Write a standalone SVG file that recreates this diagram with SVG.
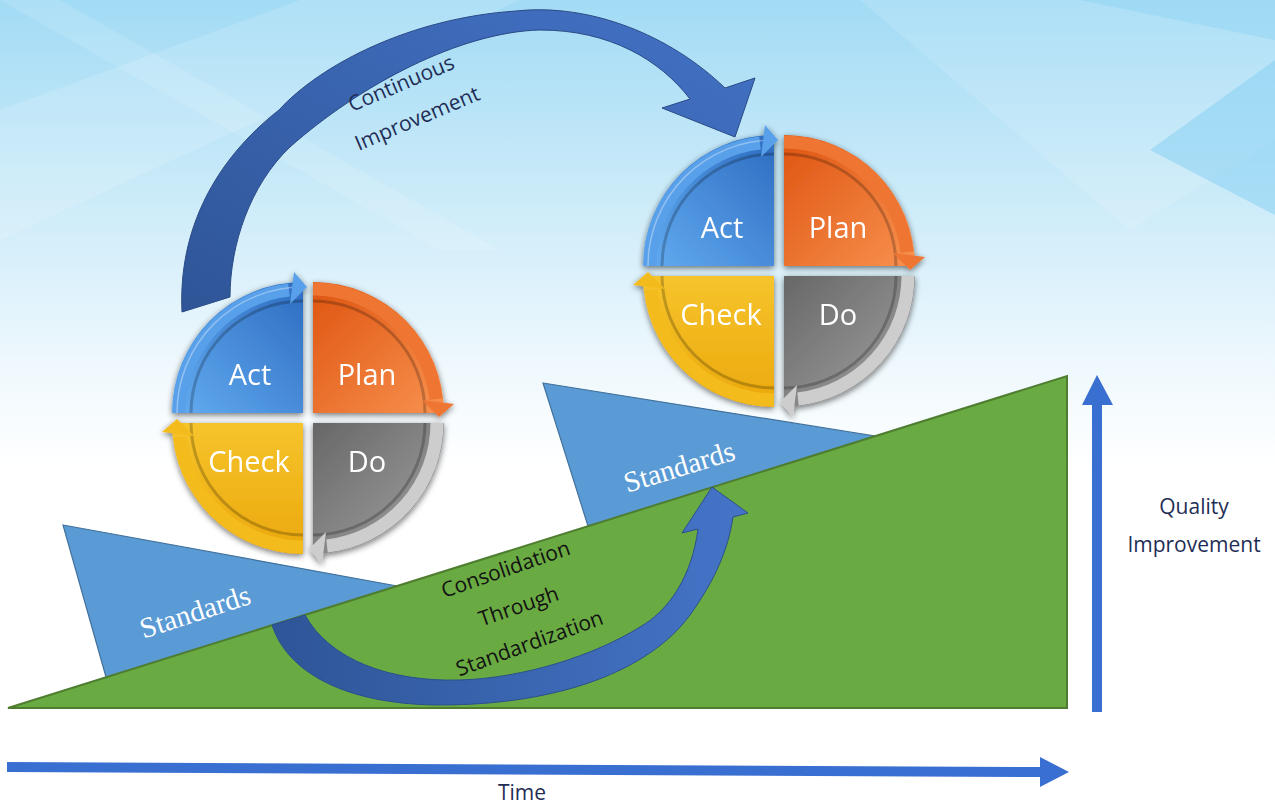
<svg xmlns="http://www.w3.org/2000/svg" width="1275" height="805" viewBox="0 0 1275 805">
<defs>
<style>
.qt{font-family:"Open Sans","Noto Sans","Liberation Sans",sans-serif;font-size:29px;fill:#ffffff;text-anchor:middle}
.lbl{font-family:"Open Sans","Noto Sans","Liberation Sans",sans-serif;font-size:21px;fill:#1f2d55;text-anchor:middle}
.cons{font-family:"Open Sans","Noto Sans","Liberation Sans",sans-serif;font-size:21px;fill:#111111;text-anchor:middle}
.std{font-family:"Liberation Serif","DejaVu Serif",serif;font-size:29px;fill:#ffffff;text-anchor:middle}
.stdtri{fill:#5b9bd5;stroke:#41719c;stroke-width:1.2}
.band{fill:none;stroke-width:13}
.groove{fill:none;stroke:#000;stroke-opacity:0.22;stroke-width:3}
.hl{fill:none;stroke:#fff;stroke-opacity:0.35;stroke-width:1.5}
.axis{fill:#3a6fd2}
</style>
<linearGradient id="bg" x1="0" y1="0" x2="0" y2="1">
<stop offset="0" stop-color="#a2dbf5"/>
<stop offset="0.2" stop-color="#c4e8f8"/>
<stop offset="0.45" stop-color="#eef8fd"/>
<stop offset="0.58" stop-color="#ffffff"/>
<stop offset="1" stop-color="#ffffff"/>
</linearGradient>
<linearGradient id="gAct" x1="1" y1="0" x2="0" y2="1">
<stop offset="0" stop-color="#2d6cc0"/>
<stop offset="1" stop-color="#63acf1"/>
</linearGradient>
<linearGradient id="gPlan" x1="0" y1="0" x2="1" y2="1">
<stop offset="0" stop-color="#de5410"/>
<stop offset="1" stop-color="#f8914f"/>
</linearGradient>
<linearGradient id="gCheck" x1="0" y1="0" x2="0" y2="1">
<stop offset="0" stop-color="#f6c42c"/>
<stop offset="1" stop-color="#eba80c"/>
</linearGradient>
<linearGradient id="gDo" x1="0" y1="0" x2="1" y2="1">
<stop offset="0" stop-color="#676767"/>
<stop offset="1" stop-color="#a3a3a3"/>
</linearGradient>
<linearGradient id="gArrowTop" x1="0" y1="1" x2="1" y2="0">
<stop offset="0" stop-color="#2f5597"/>
<stop offset="1" stop-color="#4372c6"/>
</linearGradient>
<linearGradient id="gArrowBot" x1="0" y1="0" x2="1" y2="0">
<stop offset="0" stop-color="#2e5597"/>
<stop offset="1" stop-color="#4574c8"/>
</linearGradient>
<filter id="sh" x="-25%" y="-25%" width="150%" height="150%">
<feGaussianBlur in="SourceAlpha" stdDeviation="3"/>
<feOffset dx="0" dy="2" result="o"/>
<feComponentTransfer><feFuncA type="linear" slope="0.55"/></feComponentTransfer>
<feMerge><feMergeNode/><feMergeNode in="SourceGraphic"/></feMerge>
</filter>
</defs>

<g id="background">
<rect x="0" y="0" width="1275" height="805" fill="url(#bg)"/>
<polygon points="0,110 300,0 520,0 0,240" fill="#ffffff" fill-opacity="0.14"/>
<polygon points="0,0 60,0 500,250 440,250" fill="#ffffff" fill-opacity="0.12"/>
<polygon points="860,0 1275,0 1275,140 1130,230" fill="#ffffff" fill-opacity="0.12"/>
<polygon points="1275,60 1150,150 1275,215" fill="#7ccbf1" fill-opacity="0.45"/>
<polygon points="1080,0 1275,0 1275,40" fill="#8ad2f3" fill-opacity="0.4"/>
</g>

<g id="connectors">
<path id="continuous-arrow" d="M182,312 C178,230 215,160 279,110 C320,65 410,18 516,11 C590,3 670,35 725,88 L755,78 L735,137 L662,108 L690,99 C660,60 610,30 540,30 C460,32 360,85 290,147 C250,185 230,245 230,297 Z" fill="url(#gArrowTop)" stroke="#2a4a86" stroke-width="1"/>
</g>

<g id="standards-left">
<polygon class="stdtri" points="63,525 430,592 106,677"/>
<text class="std" transform="translate(198,621) rotate(-18)">Standards</text>
</g>
<g id="standards-right">
<polygon class="stdtri" points="543,383 950,448 588,526"/>
<text class="std" transform="translate(682,476) rotate(-17)">Standards</text>
</g>

<g id="quality-base">
<polygon points="8,708 1067,376 1067,708" fill="#6aaa42" stroke="#4e7d30" stroke-width="2"/>
</g>

<g id="connectors-2">
<path id="consolidation-arrow" d="M272,625 C290,680 360,705 440,705 C560,705 650,670 690,615 C715,580 728,550 733,517 L748,513 L712,487 L682,533 L698,529 C692,575 670,610 640,627 C595,655 525,678 460,680 C390,682 330,660 305,615 Z" fill="url(#gArrowBot)" stroke="#2b4f8c" stroke-width="1"/>
<polygon id="time-axis" class="axis" points="7,762 1040,767 1040,757 1069,772 1040,787 1040,777 7,772"/>
<polygon id="quality-axis" class="axis" points="1092,712 1092,405 1082,405 1097,375 1113,405 1102,405 1102,712"/>
</g>

<g id="consolidation-label">
<text class="cons" transform="translate(508,576) rotate(-19)">Consolidation</text>
<text class="cons" transform="translate(521,613) rotate(-19)">Through</text>
<text class="cons" transform="translate(532,650) rotate(-20)">Standardization</text>
</g>

<g id="continuous-label">
<text class="lbl" transform="translate(404,90) rotate(-23)">Continuous</text>
<text class="lbl" transform="translate(420,125) rotate(-23)">Improvement</text>
</g>

<g id="pdca-left" transform="translate(308,418)">
<g id="pdca-left-act" filter="url(#sh)">
<path d="M-5,-5 H-136 A131,131 0 0 1 -5,-136 Z" fill="url(#gAct)"/>
<path class="band" d="M-129,-5 A124,124 0 0 1 -19,-128" stroke="#58a0ea"/>
<path class="groove" d="M-117,-5 A112,112 0 0 1 -5,-117"/>
<path class="hl" d="M-131,-5 A126,126 0 0 1 -5,-131"/>
<polygon points="-18,-114 -14,-146 -1,-131" fill="#58a0ea"/>
<text class="qt" x="-58" y="-33">Act</text>
</g>
<g id="pdca-left-plan" filter="url(#sh)">
<path d="M5,-5 V-136 A131,131 0 0 1 136,-5 Z" fill="url(#gPlan)"/>
<path class="band" d="M5,-129 A124,124 0 0 1 128,-19" stroke="#ee7532"/>
<path class="groove" d="M5,-117 A112,112 0 0 1 117,-5"/>
<polygon points="114,-18 146,-14 131,-1" fill="#ee7532"/>
<text class="qt" x="59" y="-33">Plan</text>
</g>
<g id="pdca-left-do" filter="url(#sh)">
<path d="M5,5 H136 A131,131 0 0 1 5,136 Z" fill="url(#gDo)"/>
<path class="band" d="M129,5 A124,124 0 0 1 19,128" stroke="#cdcdcd"/>
<path class="groove" d="M117,5 A112,112 0 0 1 5,117"/>
<polygon points="18,114 14,146 1,131" fill="#cdcdcd"/>
<text class="qt" x="59" y="54">Do</text>
</g>
<g id="pdca-left-check" filter="url(#sh)">
<path d="M-5,5 V136 A131,131 0 0 1 -136,5 Z" fill="url(#gCheck)"/>
<path class="band" d="M-5,129 A124,124 0 0 1 -128,19" stroke="#f4bb1e"/>
<path class="groove" d="M-5,117 A112,112 0 0 1 -117,5"/>
<polygon points="-114,18 -146,14 -131,1" fill="#f4bb1e"/>
<text class="qt" x="-59" y="54">Check</text>
</g>
</g>

<g id="pdca-right" transform="translate(779,271)">
<g id="pdca-right-act" filter="url(#sh)">
<path d="M-5,-5 H-136 A131,131 0 0 1 -5,-136 Z" fill="url(#gAct)"/>
<path class="band" d="M-129,-5 A124,124 0 0 1 -19,-128" stroke="#58a0ea"/>
<path class="groove" d="M-117,-5 A112,112 0 0 1 -5,-117"/>
<path class="hl" d="M-131,-5 A126,126 0 0 1 -5,-131"/>
<polygon points="-18,-114 -14,-146 -1,-131" fill="#58a0ea"/>
<text class="qt" x="-57" y="-33">Act</text>
</g>
<g id="pdca-right-plan" filter="url(#sh)">
<path d="M5,-5 V-136 A131,131 0 0 1 136,-5 Z" fill="url(#gPlan)"/>
<path class="band" d="M5,-129 A124,124 0 0 1 128,-19" stroke="#ee7532"/>
<path class="groove" d="M5,-117 A112,112 0 0 1 117,-5"/>
<polygon points="114,-18 146,-14 131,-1" fill="#ee7532"/>
<text class="qt" x="59" y="-33">Plan</text>
</g>
<g id="pdca-right-do" filter="url(#sh)">
<path d="M5,5 H136 A131,131 0 0 1 5,136 Z" fill="url(#gDo)"/>
<path class="band" d="M129,5 A124,124 0 0 1 19,128" stroke="#cdcdcd"/>
<path class="groove" d="M117,5 A112,112 0 0 1 5,117"/>
<polygon points="18,114 14,146 1,131" fill="#cdcdcd"/>
<text class="qt" x="59" y="54">Do</text>
</g>
<g id="pdca-right-check" filter="url(#sh)">
<path d="M-5,5 V136 A131,131 0 0 1 -136,5 Z" fill="url(#gCheck)"/>
<path class="band" d="M-5,129 A124,124 0 0 1 -128,19" stroke="#f4bb1e"/>
<path class="groove" d="M-5,117 A112,112 0 0 1 -117,5"/>
<polygon points="-114,18 -146,14 -131,1" fill="#f4bb1e"/>
<text class="qt" x="-58" y="54">Check</text>
</g>
</g>

<g id="quality-label">
<text class="lbl" x="1194" y="514">Quality</text>
<text class="lbl" x="1194" y="552">Improvement</text>
</g>
<g id="time-label">
<text class="lbl" x="522" y="800">Time</text>
</g>
</svg>
